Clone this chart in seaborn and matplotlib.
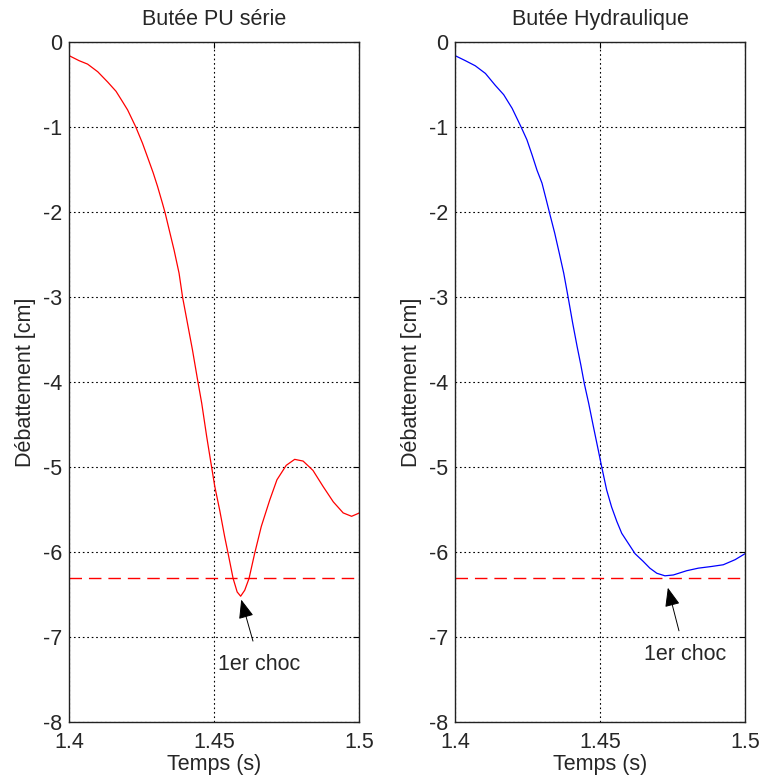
import matplotlib
matplotlib.use("Agg")
import matplotlib.pyplot as plt
import seaborn as sns
import pandas as pd

sns.set_style("white")
plt.rcParams['font.family'] = ['Liberation Sans', 'DejaVu Sans']

# Data
t_pu = [1.4000, 1.4035, 1.4064, 1.4099, 1.4133, 1.4162, 1.4184, 1.4202, 1.4230, 1.4253,
        1.4270, 1.4290, 1.4305, 1.4322, 1.4331, 1.4345, 1.4362, 1.4379, 1.4391, 1.4408,
        1.4425, 1.4442, 1.4457, 1.4474, 1.4491, 1.4502, 1.4519, 1.4536, 1.4548, 1.4565,
        1.4579, 1.4591, 1.4605, 1.4620, 1.4639, 1.4662, 1.4691, 1.4716, 1.4748, 1.4777,
        1.4806, 1.4840, 1.4875, 1.4910, 1.4944, 1.4973, 1.5000]
y_pu = [-0.16, -0.22, -0.26, -0.35, -0.47, -0.58, -0.70, -0.80, -1.00, -1.19,
        -1.35, -1.54, -1.70, -1.90, -2.01, -2.21, -2.45, -2.72, -3.00, -3.31,
        -3.62, -3.96, -4.25, -4.64, -5.00, -5.23, -5.51, -5.82, -6.02, -6.31,
        -6.47, -6.52, -6.45, -6.31, -6.02, -5.70, -5.39, -5.15, -4.98, -4.91,
        -4.93, -5.04, -5.23, -5.41, -5.54, -5.58, -5.54]

t_hy = [1.4000, 1.4036, 1.4070, 1.4105, 1.4139, 1.4168, 1.4197, 1.4228, 1.4248, 1.4266,
        1.4283, 1.4300, 1.4315, 1.4326, 1.4344, 1.4360, 1.4375, 1.4390, 1.4406, 1.4421,
        1.4434, 1.4446, 1.4461, 1.4477, 1.4494, 1.4506, 1.4523, 1.4540, 1.4558, 1.4575,
        1.4598, 1.4621, 1.4649, 1.4672, 1.4696, 1.4724, 1.4753, 1.4799, 1.4839, 1.4885,
        1.4925, 1.4966, 1.5000]
y_hy = [-0.16, -0.22, -0.28, -0.37, -0.51, -0.62, -0.78, -1.00, -1.15, -1.33,
        -1.51, -1.66, -1.86, -2.01, -2.25, -2.49, -2.72, -3.00, -3.31, -3.58,
        -3.80, -4.02, -4.25, -4.52, -4.80, -5.00, -5.27, -5.47, -5.64, -5.78,
        -5.90, -6.02, -6.11, -6.19, -6.25, -6.28, -6.27, -6.22, -6.19, -6.17,
        -6.15, -6.09, -6.02]

limit = -6.3
titles = ["Butée PU série", "Butée Hydraulique"]
ylabel = "Débattement [cm]"
xlabel = "Temps (s)"
xticks = [1.4, 1.45, 1.5]
xticklabels = ["1.4", "1.45", "1.5"]
yticks = [0, -1, -2, -3, -4, -5, -6, -7, -8]
annot_text = "1er choc"
annot_xy = [(1.4593, -6.56), (1.4734, -6.42)]
annot_txt = [(1.4656, -7.32), (1.4793, -7.20)]

FS = 15.5

fig = plt.figure(figsize=(7.63, 7.82), dpi=100)
ax1 = fig.add_axes([0.0904, 0.0767, 0.3807, 0.8696])
ax2 = fig.add_axes([0.5963, 0.0767, 0.3801, 0.8696])

datasets = [(t_pu, y_pu, "#ff0000"), (t_hy, y_hy, "#0000ff")]
for i, (ax, (t, y, c)) in enumerate(zip([ax1, ax2], datasets)):
    df = pd.DataFrame({"t": t, "y": y})
    sns.lineplot(data=df, x="t", y="y", ax=ax, color=c, lw=0.9, estimator=None, sort=False)
    ax.axhline(limit, color="#ff0000", lw=1.0, dashes=(9, 5))
    ax.set_xlim(1.4, 1.5)
    ax.set_ylim(-8, 0)
    ax.set_xticks(xticks)
    ax.set_xticklabels(xticklabels)
    ax.set_yticks(yticks)
    ax.set_yticklabels([str(v) for v in yticks])
    ax.grid(True, color="black", linestyle=(0, (1.5, 2.5)), lw=0.8)
    ax.tick_params(direction="in", top=True, right=True, labelsize=FS, length=4,
                   color="black")
    ax.tick_params(axis="x", pad=7)
    ax.tick_params(axis="y", pad=5)
    for s in ax.spines.values():
        s.set_color("#222222")
        s.set_linewidth(1.0)
    ax.set_title(titles[i], fontsize=FS, pad=12)
    ax.set_xlabel(xlabel, fontsize=FS, labelpad=1)
    ax.set_ylabel(ylabel, fontsize=FS, labelpad=5)
    ax.annotate(annot_text, xy=annot_xy[i], xytext=annot_txt[i], fontsize=FS,
                ha="center", va="center",
                arrowprops=dict(arrowstyle="-|>,head_length=0.75,head_width=0.3",
                                color="black", lw=0.7, shrinkA=7, shrinkB=0))

fig.savefig("out.png", dpi=100)
